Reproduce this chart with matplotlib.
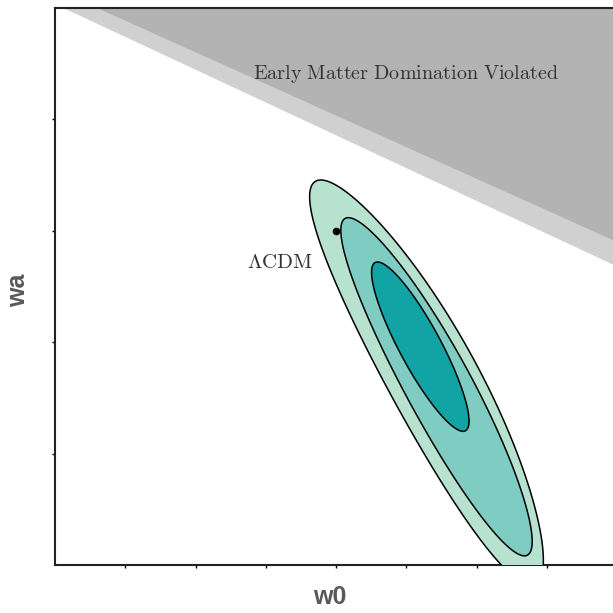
import numpy as np
import matplotlib
matplotlib.use("Agg")
import matplotlib.pyplot as plt

plt.rcParams['mathtext.fontset'] = 'cm'

# axis ranges (unlabelled ticks)
w0_lim = (-2.0, 0.0)
wa_lim = (-3.0, 2.0)
w0_ticks = np.arange(-1.75, 0.0, 0.25)
wa_ticks = [-2, -1, 0, 1]

# excluded region edges
dark_edge_w0 = [-1.85, 0.0]
dark_edge_wa = [2.0, -0.10]
light_edge_w0 = [-1.97, 0.0]
light_edge_wa = [2.0, -0.32]

# confidence contours: centre (w0, wa), semi-axes and bend (axes fraction), tilt deg
contour_names = ['3sigma', '2sigma', '1sigma']
contour_w0 = [-0.681, -0.643, -0.700]
contour_wa = [-1.362, -1.40, -1.04]
contour_a = [0.411, 0.343, 0.171]
contour_b = [0.080, 0.059, 0.037]
contour_bend = [0.015, 0.004, 0.0]
contour_tilt = [28.4, 28.2, 28.0]
contour_colors = ['#b8e2d0', '#7fccc2', '#12a4a4']

lcdm_w0, lcdm_wa = -1.0, 0.0


def contour_path(cx, cy, a, b, bend, tilt):
    t = np.linspace(0, 2 * np.pi, 500)
    th = np.radians(tilt)
    # major axis runs down to the right, bend pushes the middle up-right
    ux, uy = np.sin(th), -np.cos(th)
    vx, vy = np.cos(th), np.sin(th)
    perp = b * np.sin(t) + bend * np.sin(t) ** 2
    fx = a * np.cos(t) * ux + perp * vx
    fy = a * np.cos(t) * uy + perp * vy
    xr = w0_lim[1] - w0_lim[0]
    yr = wa_lim[1] - wa_lim[0]
    return cx + fx * xr, cy + fy * yr


fig = plt.figure(figsize=(6.13, 6.13), dpi=100)
ax = fig.add_axes([55 / 613, 48 / 613, 562 / 613, 557 / 613])

# excluded region: light band then dark region on top
ax.fill(light_edge_w0 + [w0_lim[1], w0_lim[0] - 1], light_edge_wa + [wa_lim[1] + 1, wa_lim[1] + 1],
        color='#d0d0d0', lw=0, zorder=1)
ax.fill(dark_edge_w0 + [w0_lim[1], w0_lim[0] - 1], dark_edge_wa + [wa_lim[1] + 1, wa_lim[1] + 1],
        color='#b3b3b3', lw=0, zorder=2)
ax.text(-0.75, 1.41, r'$\mathrm{Early\ Matter\ Domination\ Violated}$',
        ha='center', va='center', fontsize=14.5, color='#333333', zorder=3)

for i in range(len(contour_names)):
    x, y = contour_path(contour_w0[i], contour_wa[i], contour_a[i], contour_b[i],
                        contour_bend[i], contour_tilt[i])
    ax.fill(x, y, facecolor=contour_colors[i], edgecolor='black', lw=1.1, zorder=4 + i)

ax.plot(lcdm_w0, lcdm_wa, 'o', color='black', ms=4.5, zorder=10)
ax.text(-1.2, -0.28, r'$\Lambda\mathrm{CDM}$', ha='center', va='center',
        fontsize=15, color='#333333', zorder=10)

ax.set_xlim(*w0_lim)
ax.set_ylim(*wa_lim)
ax.set_xticks(w0_ticks)
ax.set_yticks(wa_ticks)
ax.tick_params(direction='out', length=2, width=1, labelbottom=False, labelleft=False)
for s in ax.spines.values():
    s.set_linewidth(1.5)
    s.set_color('#222222')

fig.text(330 / 613, 1 - 597 / 613, 'w0', ha='center', va='center', fontsize=18,
         fontweight='bold', color='#595959', family='Liberation Sans')
fig.text(18 / 613, 1 - 290 / 613, 'wa', ha='center', va='center', fontsize=18,
         fontweight='bold', color='#595959', family='Liberation Sans', rotation=90)

fig.savefig('out.png', dpi=100)
